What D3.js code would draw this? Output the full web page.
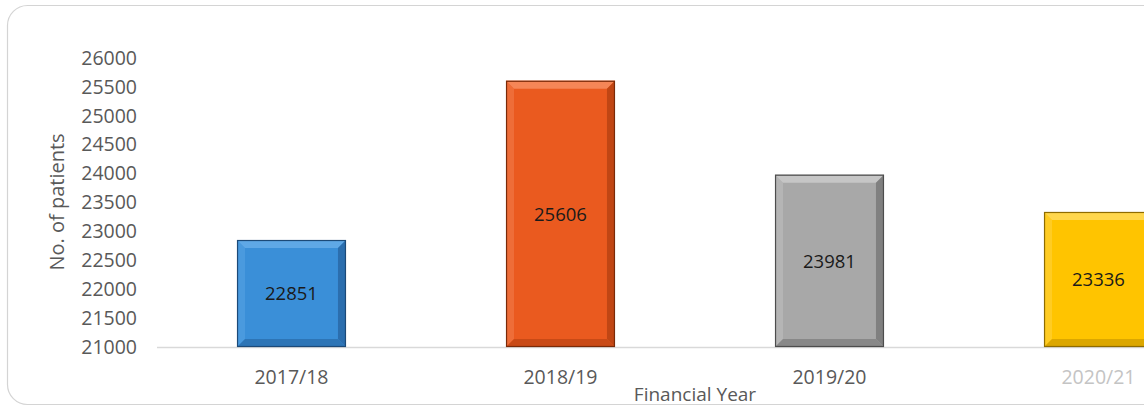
<!DOCTYPE html>
<html>
<head>
<meta charset="utf-8">
<script src="https://cdn.jsdelivr.net/npm/d3@7"></script>
<style>
  html, body { margin: 0; padding: 0; background: #fff; }
  svg { display: block; }
  text { font-family: "Open Sans", "Noto Sans", sans-serif; }
</style>
</head>
<body>
<svg id="chart" width="1144" height="408"></svg>
<script>
// Patients seen per financial year
const years = ["2017/18", "2018/19", "2019/20", "2020/21"];
const patients = [22851, 25606, 23981, 23336];
const yTicks = [21000, 21500, 22000, 22500, 23000, 23500, 24000, 24500, 25000, 25500, 26000];

// Bevel palette per bar: base, highlight, shadow, edge
const baseColors = ["#3a8fd8", "#ea5a1f", "#a8a8a8", "#ffc400"];
const lightColors = ["#5fa8e6", "#f58657", "#c6c6c6", "#ffd74d"];
const darkColors = ["#2b6eae", "#c04614", "#808080", "#d3a000"];
const edgeColors = ["#1c4a78", "#7a2a08", "#4d4d4d", "#8f6c00"];

const svg = d3.select("#chart");
const W = 1144, H = 408;

// Frame around the chart area
svg.append("rect")
  .attr("x", 7.5).attr("y", 5.5)
  .attr("width", 1200).attr("height", 399)
  .attr("rx", 20).attr("ry", 20)
  .attr("fill", "none")
  .attr("stroke", "#d4d4d4")
  .attr("stroke-width", 1.2);

const x = d3.scaleBand()
  .domain(years)
  .range([157, 1233])
  .paddingInner(0.595)
  .paddingOuter(0.2975);

const y = d3.scaleLinear()
  .domain([21000, 26000])
  .range([347, 58]);

// Y axis labels (no line, no ticks)
const yAxis = d3.axisLeft(y).tickValues(yTicks).tickSize(0).tickPadding(0).tickFormat(d3.format("d"));
const gy = svg.append("g").attr("transform", "translate(137,0)").call(yAxis);
gy.select(".domain").remove();
gy.selectAll("text")
  .attr("fill", "#595959")
  .style("font-size", "19.5px")
  .style("font-family", "'Open Sans', sans-serif");

// Category axis baseline
svg.append("line")
  .attr("x1", 157).attr("x2", W)
  .attr("y1", y(21000) + 0.5).attr("y2", y(21000) + 0.5)
  .attr("stroke", "#d9d9d9").attr("stroke-width", 1.5);

// Bevelled bars
const bars = svg.append("g");
years.forEach((yr, i) => {
  const x0 = x(yr), x1 = x(yr) + x.bandwidth();
  const y0 = y(patients[i]), y1 = y(21000);
  const b = 8;
  const g = bars.append("g");
  g.append("rect")
    .attr("x", x0).attr("y", y0)
    .attr("width", x1 - x0).attr("height", y1 - y0)
    .attr("fill", baseColors[i]);
  const poly = pts => g.append("polygon").attr("points", pts.map(p => p.join(",")).join(" "));
  // top facet
  poly([[x0, y0], [x1, y0], [x1 - b, y0 + b], [x0 + b, y0 + b]]).attr("fill", lightColors[i]);
  // left facet
  poly([[x0, y0], [x0 + b, y0 + b], [x0 + b, y1 - b], [x0, y1]]).attr("fill", lightColors[i]).attr("opacity", 0.45);
  // right facet
  poly([[x1, y0], [x1, y1], [x1 - b, y1 - b], [x1 - b, y0 + b]]).attr("fill", darkColors[i]);
  // bottom facet
  poly([[x0, y1], [x0 + b, y1 - b], [x1 - b, y1 - b], [x1, y1]]).attr("fill", darkColors[i]).attr("opacity", 0.8);
  // outer edge
  g.append("rect")
    .attr("x", x0 + 0.5).attr("y", y0 + 0.5)
    .attr("width", x1 - x0 - 1).attr("height", y1 - y0 - 1)
    .attr("fill", "none")
    .attr("stroke", edgeColors[i])
    .attr("stroke-width", 1.2);
  // value label
  g.append("text")
    .attr("x", (x0 + x1) / 2)
    .attr("y", (y0 + y1) / 2)
    .attr("dy", "0.36em")
    .attr("text-anchor", "middle")
    .attr("fill", "#1a1a1a")
    .style("font-size", "18.5px")
    .text(patients[i]);
});

// Category labels
const xAxis = d3.axisBottom(x).tickSize(0).tickPadding(0);
const gx = svg.append("g").attr("transform", "translate(0,370)").call(xAxis);
gx.select(".domain").remove();
gx.selectAll("text")
  .attr("fill", (d, i) => i === 3 ? "#c4c4c4" : "#595959")
  .style("font-size", "19.5px")
  .style("font-family", "'Open Sans', sans-serif");

// Axis titles
svg.append("text")
  .attr("x", 695).attr("y", 401)
  .attr("text-anchor", "middle")
  .attr("fill", "#595959")
  .style("font-size", "19px")
  .text("Financial Year");

svg.append("text")
  .attr("transform", "translate(64,202) rotate(-90)")
  .attr("text-anchor", "middle")
  .attr("fill", "#595959")
  .style("font-size", "20px")
  .text("No. of patients");
</script>
</body>
</html>
